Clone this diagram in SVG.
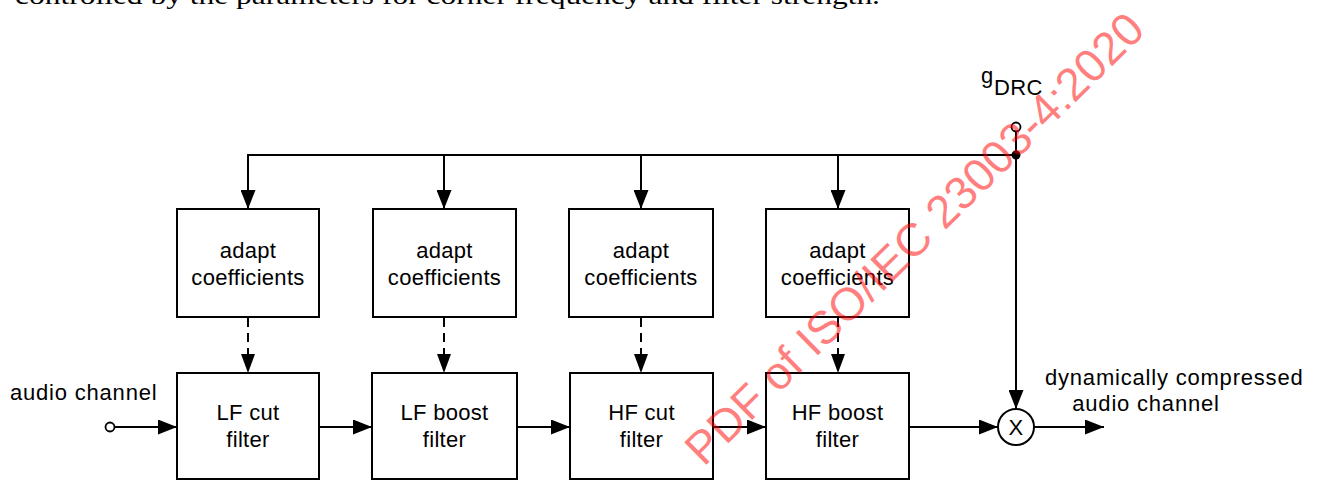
<svg xmlns="http://www.w3.org/2000/svg" width="1318" height="481" viewBox="0 0 1318 481">
<style>
.box{fill:#fff;stroke:#000;stroke-width:2}
.ln{fill:none;stroke:#000;stroke-width:2}
.dash{fill:none;stroke:#000;stroke-width:2;stroke-dasharray:9 6}
.t{font-family:"Liberation Sans",Arial,sans-serif;font-size:22px;letter-spacing:0.3px;fill:#000}
.o{font-size:22px;letter-spacing:0.8px}
.tc{text-anchor:middle}
</style>
<defs>
<marker id="ah" viewBox="0 0 19 15" refX="19" refY="7.5" markerWidth="19" markerHeight="15" markerUnits="userSpaceOnUse" orient="auto">
<path d="M0,0 L19,7.5 L0,15 Z" fill="#000"/>
</marker>
</defs>
<text x="15" y="4" font-family="'Liberation Serif','Times New Roman',serif" font-size="26" textLength="865" lengthAdjust="spacingAndGlyphs">controlled by the parameters for corner frequency and filter strength.</text>
<g id="connectors">
<path class="ln" d="M1016,131 V155 H247"/>
<path class="ln" d="M248,155 V209" marker-end="url(#ah)"/>
<path class="ln" d="M444,155 V209" marker-end="url(#ah)"/>
<path class="ln" d="M641,155 V209" marker-end="url(#ah)"/>
<path class="ln" d="M838,155 V209" marker-end="url(#ah)"/>
<path class="ln" d="M1016,155 V409" marker-end="url(#ah)"/>
<path class="dash" d="M248,318 V360"/><path d="M241,354 L255,354 L248,373 Z"/>
<path class="dash" d="M444,318 V360"/><path d="M437,354 L451,354 L444,373 Z"/>
<path class="dash" d="M641,318 V360"/><path d="M634,354 L648,354 L641,373 Z"/>
<path class="dash" d="M838,318 V360"/><path d="M831,354 L845,354 L838,373 Z"/>
<path class="ln" d="M114,427 H177" marker-end="url(#ah)"/>
<path class="ln" d="M319,427 H372" marker-end="url(#ah)"/>
<path class="ln" d="M517,427 H570" marker-end="url(#ah)"/>
<path class="ln" d="M713,427 H766" marker-end="url(#ah)"/>
<path class="ln" d="M909,427 H998" marker-end="url(#ah)"/>
<path class="ln" d="M1034,427 H1104" marker-end="url(#ah)"/>
<circle cx="1016" cy="155" r="4.5" fill="#000"/>
</g>
<g id="gdrc">
<circle cx="1016" cy="127" r="4.5" fill="#fff" stroke="#000" stroke-width="1.8"/>
<text class="t" x="981" y="83" font-size="21">g</text>
<text class="t" x="994" y="95" font-size="21">DRC</text>
</g>
<g id="input">
<circle cx="110" cy="427" r="4.5" fill="#fff" stroke="#000" stroke-width="1.8"/>
<text class="t o" x="10" y="400">audio channel</text>
</g>
<g id="adapt1"><rect class="box" x="177" y="209" width="142" height="108"/><text class="t tc" x="248" y="258">adapt</text><text class="t tc" x="248" y="285">coefficients</text></g>
<g id="adapt2"><rect class="box" x="373" y="209" width="143" height="108"/><text class="t tc" x="444.5" y="258">adapt</text><text class="t tc" x="444.5" y="285">coefficients</text></g>
<g id="adapt3"><rect class="box" x="569" y="209" width="144" height="108"/><text class="t tc" x="641" y="258">adapt</text><text class="t tc" x="641" y="285">coefficients</text></g>
<g id="adapt4"><rect class="box" x="766" y="209" width="143" height="108"/><text class="t tc" x="837.5" y="258">adapt</text><text class="t tc" x="837.5" y="285">coefficients</text></g>
<g id="lfcut"><rect class="box" x="177" y="373" width="142" height="106"/><text class="t tc" x="248" y="420">LF cut</text><text class="t tc" x="248" y="447">filter</text></g>
<g id="lfboost"><rect class="box" x="372" y="373" width="145" height="106"/><text class="t tc" x="444.5" y="420">LF boost</text><text class="t tc" x="444.5" y="447">filter</text></g>
<g id="hfcut"><rect class="box" x="570" y="373" width="143" height="106"/><text class="t tc" x="641.5" y="420">HF cut</text><text class="t tc" x="641.5" y="447">filter</text></g>
<g id="hfboost"><rect class="box" x="766" y="373" width="143" height="106"/><text class="t tc" x="837.5" y="420">HF boost</text><text class="t tc" x="837.5" y="447">filter</text></g>
<g id="multiplier">
<circle cx="1016" cy="427" r="18" fill="#fff" stroke="#000" stroke-width="2"/>
<text class="t tc" x="1016" y="435" font-size="22">X</text>
</g>
<g id="output">
<text class="t o" x="1045" y="385">dynamically compressed</text>
<text class="t o tc" x="1146" y="411">audio channel</text>
</g>
<text transform="translate(1147,32) rotate(-44.5)" text-anchor="end" font-family="'Liberation Sans',Arial,sans-serif" font-size="46" fill="#ff0000" fill-opacity="0.5">PDF of ISO/IEC 23003-4:2020</text>
</svg>
